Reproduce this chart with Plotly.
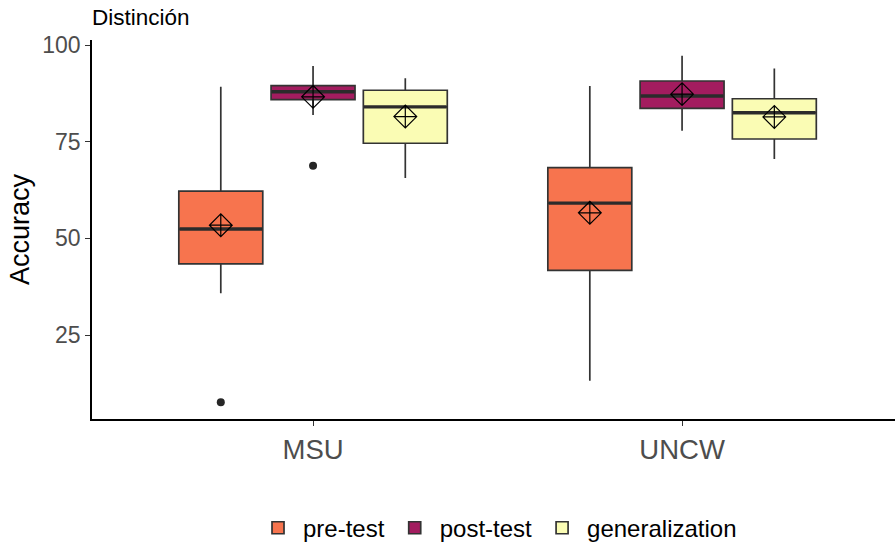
import plotly.graph_objects as go

sites = ["MSU", "UNCW"]
phases = ["pre-test", "post-test", "generalization"]
colors = {"pre-test": "#F7744E", "post-test": "#A31C5F", "generalization": "#FAFCB4"}

# precomputed box statistics per phase: [MSU, UNCW]
lower_whisker = {"pre-test": [35.8, 13.2], "post-test": [81.9, 77.8], "generalization": [65.6, 70.5]}
q1 = {"pre-test": [43.4, 41.7], "post-test": [85.9, 83.6], "generalization": [74.6, 75.7]}
median = {"pre-test": [52.4, 59.1], "post-test": [87.9, 86.8], "generalization": [84.0, 82.5]}
q3 = {"pre-test": [62.2, 68.3], "post-test": [89.5, 90.7], "generalization": [88.3, 86.1]}
upper_whisker = {"pre-test": [89.2, 89.4], "post-test": [94.6, 97.2], "generalization": [91.4, 93.9]}
means = {"pre-test": [53.4, 56.6], "post-test": [86.6, 87.3], "generalization": [81.5, 81.4]}
outlier_site = {"pre-test": ["MSU"], "post-test": ["MSU"], "generalization": []}
outlier_val = {"pre-test": [7.6], "post-test": [68.8], "generalization": []}

FONT = "Liberation Sans, Arial, Helvetica, sans-serif"

fig = go.Figure()
for p in phases:
    fig.add_trace(go.Box(
        x=sites, q1=q1[p], median=median[p], q3=q3[p],
        lowerfence=lower_whisker[p], upperfence=upper_whisker[p],
        name=p, fillcolor=colors[p], offsetgroup=p,
        line=dict(color="#333333", width=1.7), whiskerwidth=0,
        boxpoints=False, hoverinfo="y",
    ))
for p in phases:
    # thicker median line (ggplot fatten)
    fig.add_trace(go.Scatter(
        x=sites, y=median[p], mode="markers", offsetgroup=p, showlegend=False,
        marker=dict(symbol="line-ew-open", size=59, color="#2b2b2b",
                    line=dict(color="#2b2b2b", width=3.4)),
        hoverinfo="skip",
    ))
    fig.add_trace(go.Scatter(
        x=sites, y=means[p], mode="markers", offsetgroup=p, showlegend=False,
        marker=dict(symbol="diamond-cross-open", size=17.5, color="black",
                    line=dict(color="black", width=1.2)),
    ))
    if outlier_val[p]:
        fig.add_trace(go.Scatter(
            x=outlier_site[p], y=outlier_val[p], mode="markers", offsetgroup=p, showlegend=False,
            marker=dict(symbol="circle", size=8, color="#262626"),
        ))

fig.update_layout(
    width=895, height=543,
    margin=dict(l=92, r=0, t=40, b=124, autoexpand=False),
    paper_bgcolor="white", plot_bgcolor="white",
    boxmode="group", boxgap=0.25, boxgroupgap=0.09,
    scattermode="group", scattergap=0.25,
    font=dict(family=FONT, color="black"),
    title=dict(text="Distinción", x=0, xanchor="left", xref="paper", y=1 - 17/543,
               yanchor="middle", font=dict(size=22.5, color="black")),
    showlegend=True,
    legend=dict(orientation="h", x=0.505, xanchor="center", y=-0.288, yanchor="middle",
                font=dict(size=24, color="black"), itemwidth=40, traceorder="normal"),
    xaxis=dict(
        type="category", categoryorder="array", categoryarray=sites,
        range=[-0.599, 1.577], showgrid=False, zeroline=False,
        showline=True, linecolor="black", linewidth=1.6,
        ticks="outside", ticklen=5, tickcolor="#333333", tickwidth=1.2,
        tickfont=dict(size=27.5, color="#4D4D4D"),
    ),
    yaxis=dict(
        range=[3.28, 101.3], tickvals=[25, 50, 75, 100], showgrid=False, zeroline=False,
        showline=True, linecolor="black", linewidth=1.6,
        ticks="outside", ticklen=5, tickcolor="#333333", tickwidth=1.2,
        tickfont=dict(size=23, color="#4D4D4D"),
        title=dict(text="Accuracy", font=dict(size=27, color="black"), standoff=5),
    ),
)

fig.write_html("out.html")
